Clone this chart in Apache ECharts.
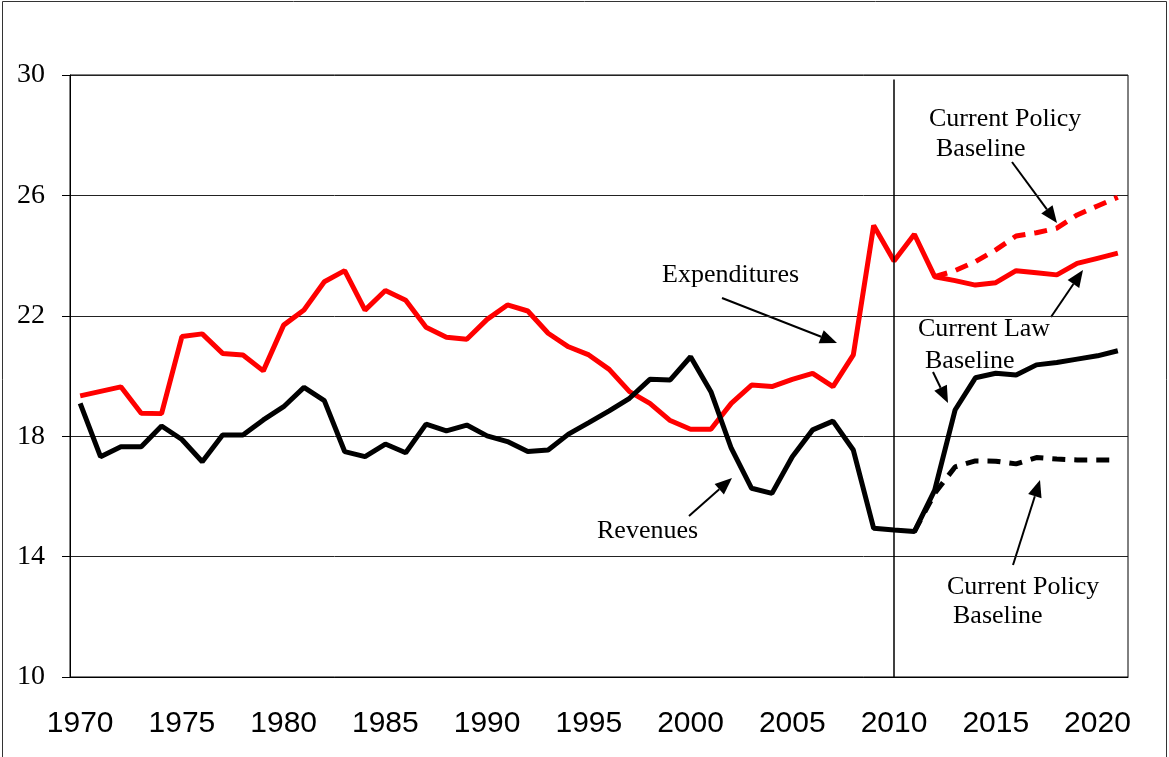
<!DOCTYPE html>
<html>
<head>
<meta charset="utf-8">
<script src="https://cdn.jsdelivr.net/npm/echarts@6/dist/echarts.min.js"></script>
<style>
  html, body { margin: 0; padding: 0; background: #fff; }
  #chart { width: 1169px; height: 757px; }
</style>
</head>
<body>
<div id="chart"></div>
<script>
// years 1970 - 2021
const years = []
for (let y = 1970; y <= 2021; y++) years.push(String(y))

// percent of GDP
const expenditures = [
  19.34, 19.49, 19.64, 18.76, 18.75, 21.31, 21.40, 20.75, 20.70, 20.17,
  21.69, 22.19, 23.13, 23.50, 22.19, 22.84, 22.52, 21.62, 21.29, 21.22,
  21.88, 22.36, 22.16, 21.42, 20.97, 20.70, 20.22, 19.48, 19.09, 18.52,
  18.23, 18.23, 19.09, 19.70, 19.65, 19.89, 20.09, 19.65, 20.70, 25.00,
  23.82, 24.71, 23.30, 23.17, 23.02, 23.10, 23.50, 23.43, 23.36, 23.74,
  23.91, 24.08
]
const revenues = [
  19.09, 17.32, 17.65, 17.65, 18.34, 17.89, 17.15, 18.04, 18.04, 18.54,
  18.98, 19.62, 19.18, 17.49, 17.32, 17.74, 17.45, 18.40, 18.18, 18.37,
  18.01, 17.82, 17.49, 17.54, 18.07, 18.45, 18.84, 19.26, 19.89, 19.87,
  20.64, 19.48, 17.60, 16.27, 16.10, 17.32, 18.21, 18.50, 17.54, 14.94,
  14.88, 14.83, 16.21, 18.87, 19.94, 20.09, 20.03, 20.37, 20.45, 20.56,
  20.67, 20.84
]
// current policy baselines
const policyExpStart = '2012'
const policyExp = [23.30, 23.50, 23.80, 24.19, 24.65, 24.76, 24.91, 25.35, 25.65, 25.94]
const policyRevStart = '2011'
const policyRev = [14.83, 16.10, 16.98, 17.18, 17.17, 17.08, 17.29, 17.24, 17.21, 17.21, 17.21]

const yTicks = [10, 14, 18, 22, 26, 30]

const pad = (start, vals) => {
  const i = years.indexOf(start)
  return years.map((y, k) => (k >= i && k - i < vals.length ? vals[k - i] : null))
}

const serif = '"Liberation Serif", "Times New Roman", serif'

const label = (text, x, y) => ({
  type: 'text', x: x, y: y,
  style: { text: text, font: '26px ' + serif, fill: '#000', textVerticalAlign: 'middle' }
})

const arrow = (x1, y1, x2, y2) => {
  const dx = x2 - x1, dy = y2 - y1
  const len = Math.sqrt(dx * dx + dy * dy)
  const ux = dx / len, uy = dy / len
  const hl = 17, hw = 7
  const bx = x2 - ux * hl, by = y2 - uy * hl
  return [
    { type: 'line', shape: { x1: x1, y1: y1, x2: bx, y2: by }, style: { stroke: '#000', lineWidth: 2 } },
    { type: 'polygon', shape: { points: [[x2, y2], [bx - uy * hw, by + ux * hw], [bx + uy * hw, by - ux * hw]] }, style: { fill: '#000' } }
  ]
}

const myChart = echarts.init(document.getElementById('chart'))

const option = {
  animation: false,
  grid: {
    left: 70, right: 41, top: 75, bottom: 80,
    show: true, borderColor: '#000', borderWidth: 1
  },
  xAxis: {
    type: 'category',
    data: years,
    boundaryGap: true,
    axisLine: { lineStyle: { color: '#000', width: 1 } },
    axisTick: { interval: 4, length: 7, lineStyle: { color: '#000' } },
    axisLabel: {
      interval: 4, margin: 32, color: '#000', fontSize: 30,
      fontFamily: '"Liberation Sans", Arial, sans-serif'
    },
    splitLine: { show: false }
  },
  yAxis: {
    type: 'value',
    min: yTicks[0], max: yTicks[yTicks.length - 1], interval: 4,
    axisLine: { show: true, lineStyle: { color: '#000', width: 1 } },
    axisTick: { show: true, length: 8, lineStyle: { color: '#000' } },
    axisLabel: { margin: 25, color: '#000', fontSize: 28, fontFamily: serif },
    splitLine: { lineStyle: { color: '#222', width: 1 } }
  },
  series: [
    {
      name: 'Expenditures', type: 'line', data: expenditures,
      symbol: 'none', lineStyle: { color: '#ff0000', width: 5 }, z: 3,
      markLine: {
        silent: true, symbol: 'none', label: { show: false },
        lineStyle: { color: '#000', width: 1.5, type: 'solid' },
        data: [[{ coord: ['2010', 29.85] }, { coord: ['2010', 10] }]]
      }
    },
    {
      name: 'Expenditures current policy', type: 'line', data: pad(policyExpStart, policyExp),
      symbol: 'none', lineStyle: { color: '#ff0000', width: 5, type: [13, 9] }, z: 3
    },
    {
      name: 'Revenues', type: 'line', data: revenues,
      symbol: 'none', lineStyle: { color: '#000', width: 5 }, z: 4
    },
    {
      name: 'Revenues current policy', type: 'line', data: pad(policyRevStart, policyRev),
      symbol: 'none', lineStyle: { color: '#000', width: 5, type: [13, 9] }, z: 4
    }
  ],
  graphic: [
    { type: 'rect', shape: { x: 2.5, y: 1.5, width: 1164, height: 800 }, style: { fill: 'none', stroke: '#333', lineWidth: 1 }, silent: true },
    label('Expenditures', 662, 275),
    label('Revenues', 597, 531),
    label('Current Policy', 929, 119),
    label('Baseline', 936, 149),
    label('Current Law', 918, 329),
    label('Baseline', 925, 361),
    label('Current Policy', 947, 587),
    label('Baseline', 953, 616),
    ...arrow(722, 298, 837, 343),
    ...arrow(689, 516, 732, 478),
    ...arrow(1012, 162, 1057, 223),
    ...arrow(1051, 317, 1083, 270),
    ...arrow(933, 372, 948, 403),
    ...arrow(1013, 565, 1040, 480)
  ]
}

myChart.setOption(option)
</script>
</body>
</html>
